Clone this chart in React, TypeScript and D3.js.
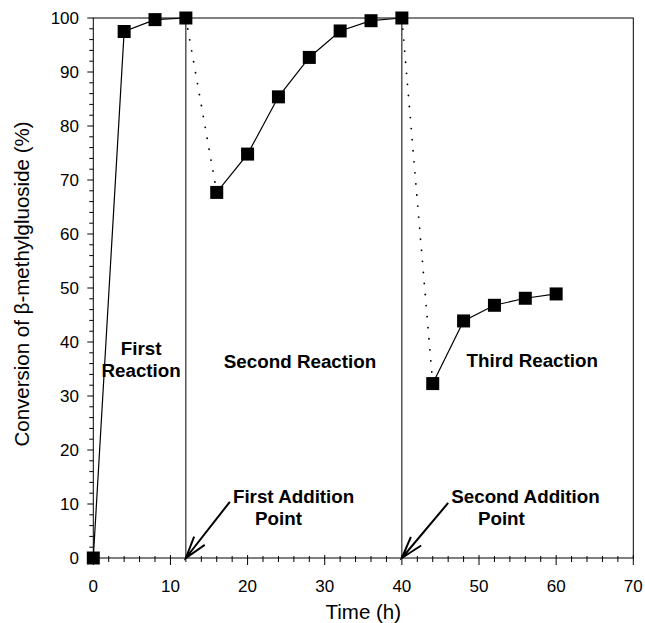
import React from "react";
import * as d3 from "d3";

const W = 645;
const H = 623;

// Data
const firstTimes = [0, 4, 8, 12];
const firstConv = [0, 97.5, 99.7, 100];
const secondTimes = [16, 20, 24, 28, 32, 36, 40];
const secondConv = [67.7, 74.8, 85.4, 92.7, 97.6, 99.5, 100];
const thirdTimes = [44, 48, 52, 56, 60];
const thirdConv = [32.3, 43.9, 46.8, 48.1, 48.9];
const additionTimes = [12, 40];

const xTicks = [0, 10, 20, 30, 40, 50, 60, 70];
const yTicks = [0, 10, 20, 30, 40, 50, 60, 70, 80, 90, 100];

const margin = { left: 93.3, right: 645 - 633.3, top: 18, bottom: 623 - 558 };

const x = d3.scaleLinear().domain([0, 70]).range([margin.left, W - margin.right]);
const y = d3.scaleLinear().domain([0, 100]).range([H - margin.bottom, margin.top]);

const FONT = "'Liberation Sans', Arial, Helvetica, sans-serif";

const zip = (ts: number[], vs: number[]) => ts.map((t, i) => [t, vs[i]] as [number, number]);

export default function App() {
  const line = d3
    .line<[number, number]>()
    .x((d) => x(d[0]))
    .y((d) => y(d[1]));

  const s1 = zip(firstTimes, firstConv);
  const s2 = zip(secondTimes, secondConv);
  const s3 = zip(thirdTimes, thirdConv);
  const all = [...s1, ...s2, ...s3];

  const dotted1: [number, number][] = [s1[s1.length - 1], s2[0]];
  const dotted2: [number, number][] = [s2[s2.length - 1], s3[0]];

  const minorX = d3.range(0, 70.001, 2).filter((v) => v % 10 !== 0);
  const minorY = d3.range(0, 100.001, 2).filter((v) => v % 10 !== 0);

  const arrows = [
    { tip: [12, 0], tail: [17.7, 10.4] },
    { tip: [40, 0], tail: [46.0, 10.2] },
  ];

  const arrowPath = (a: { tip: number[]; tail: number[] }) => {
    const tx = x(a.tip[0]);
    const ty = y(a.tip[1]);
    const ex = x(a.tail[0]);
    const ey = y(a.tail[1]);
    const ang = Math.atan2(ey - ty, ex - tx);
    const L = 23;
    const da = (17 * Math.PI) / 180;
    const w1 = [tx + L * Math.cos(ang + da), ty + L * Math.sin(ang + da)];
    const w2 = [tx + L * Math.cos(ang - da), ty + L * Math.sin(ang - da)];
    return `M${ex},${ey}L${tx},${ty}M${w1[0]},${w1[1]}L${tx},${ty}L${w2[0]},${w2[1]}`;
  };

  const boldLabels = [
    { text: "First", x: 6.2, y: 37.6, anchor: "middle" },
    { text: "Reaction", x: 6.2, y: 33.5, anchor: "middle" },
    { text: "Second Reaction", x: 26.8, y: 35.2, anchor: "middle" },
    { text: "Third Reaction", x: 56.9, y: 35.4, anchor: "middle" },
    { text: "First Addition", x: 18.1, y: 10.2, anchor: "start" },
    { text: "Point", x: 24.0, y: 6.1, anchor: "middle" },
    { text: "Second Addition", x: 46.4, y: 10.2, anchor: "start" },
    { text: "Point", x: 52.9, y: 6.1, anchor: "middle" },
  ];

  const ms = 13;

  return (
    <svg
      width={W}
      height={H}
      style={{ position: "absolute", left: 0, top: 0, background: "#fff" }}
      fontFamily={FONT}
    >
      {/* frame */}
      <rect
        x={x(0)}
        y={y(100)}
        width={x(70) - x(0)}
        height={y(0) - y(100)}
        fill="none"
        stroke="#000"
        strokeWidth={1}
      />
      {/* x ticks */}
      {xTicks.map((t) => (
        <line key={"xt" + t} x1={x(t)} x2={x(t)} y1={y(0) - 3} y2={y(0) + 7} stroke="#000" />
      ))}
      {minorX.map((t) => (
        <line key={"xm" + t} x1={x(t)} x2={x(t)} y1={y(0) - 2} y2={y(0) + 4} stroke="#000" />
      ))}
      {xTicks.map((t) => (
        <text key={"xl" + t} x={x(t)} y={592} textAnchor="middle" fontSize={17}>
          {t}
        </text>
      ))}
      {/* y ticks */}
      {yTicks.map((t) => (
        <line key={"yt" + t} x1={x(0) - 6} x2={x(0)} y1={y(t)} y2={y(t)} stroke="#000" />
      ))}
      {minorY.map((t) => (
        <line key={"ym" + t} x1={x(0) - 4} x2={x(0)} y1={y(t)} y2={y(t)} stroke="#000" />
      ))}
      {yTicks.map((t) => (
        <text
          key={"yl" + t}
          x={79}
          y={y(t)}
          dy="0.35em"
          textAnchor="end"
          fontSize={17}
        >
          {t}
        </text>
      ))}
      {/* axis titles */}
      <text x={(x(0) + x(70)) / 2} y={619} textAnchor="middle" fontSize={20.5}>
        Time (h)
      </text>
      <text
        transform={`translate(28.5, ${(y(0) + y(100)) / 2 - 4}) rotate(-90)`}
        textAnchor="middle"
        fontSize={20.5}
      >
        Conversion of β-methylgluoside (%)
      </text>
      {/* addition vertical lines */}
      {additionTimes.map((t) => (
        <line key={"av" + t} x1={x(t)} x2={x(t)} y1={y(0)} y2={y(100)} stroke="#000" strokeWidth={1} />
      ))}
      {/* dotted connectors */}
      {[dotted1, dotted2].map((d, i) => (
        <path
          key={"dt" + i}
          d={line(d) || ""}
          fill="none"
          stroke="#000"
          strokeWidth={1.8}
          strokeDasharray="0.1 11"
          strokeLinecap="round"
        />
      ))}
      {/* series lines */}
      {[s1, s2, s3].map((s, i) => (
        <path key={"sl" + i} d={line(s) || ""} fill="none" stroke="#000" strokeWidth={1.2} />
      ))}
      {/* markers */}
      {all.map((d, i) => (
        <rect
          key={"mk" + i}
          x={x(d[0]) - ms / 2}
          y={y(d[1]) - ms / 2}
          width={ms}
          height={ms}
          fill="#000"
        />
      ))}
      {/* arrows */}
      {arrows.map((a, i) => (
        <path key={"ar" + i} d={arrowPath(a)} fill="none" stroke="#000" strokeWidth={2} />
      ))}
      {/* bold labels */}
      {boldLabels.map((l, i) => (
        <text
          key={"bl" + i}
          x={x(l.x)}
          y={y(l.y)}
          textAnchor={l.anchor}
          fontSize={18.8}
          fontWeight="bold"
        >
          {l.text}
        </text>
      ))}
    </svg>
  );
}
